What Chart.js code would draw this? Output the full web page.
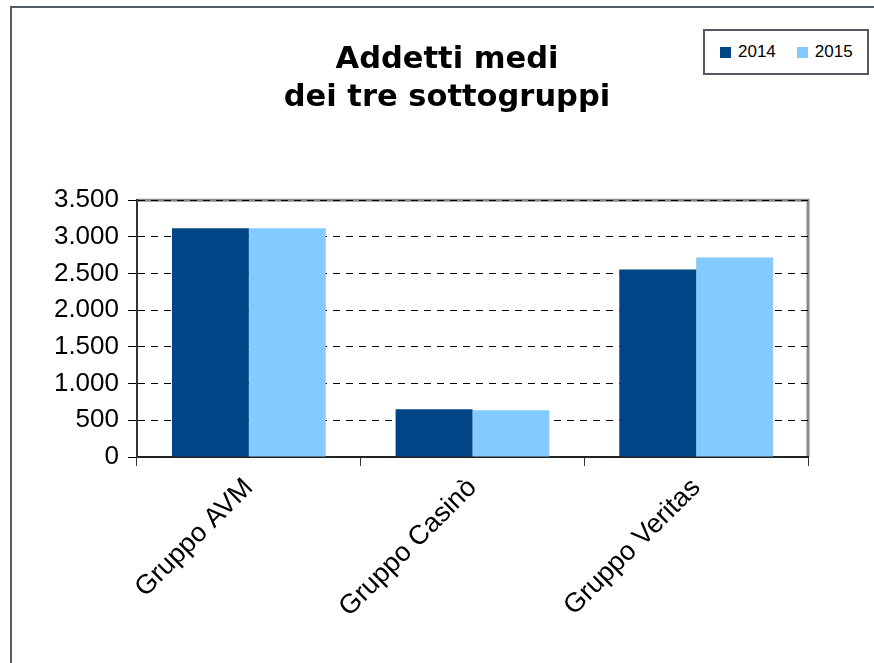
<!DOCTYPE html>
<html lang="it">
<head>
<meta charset="utf-8">
<title>Addetti medi dei tre sottogruppi</title>
<script src="https://cdn.jsdelivr.net/npm/chart.js@4"></script>
<style>
    body { margin: 0; background: #fff; }
    #wrap { position: relative; width: 874px; height: 663px; overflow: hidden; }
    #frame { position: absolute; left: 10px; top: 6px; width: 900px; height: 700px;
             border-left: 2px solid #555b62; border-top: 2px solid #555b62; }
    #chart { position: absolute; left: 0; top: 0; }
    #legend { position: absolute; left: 703px; top: 29px; width: 162px; height: 42px;
              border: 2px solid #555b62; background: #fff; display: flex; align-items: center;
              font-family: "Liberation Sans", Arial, sans-serif; font-size: 17px; color: #000; }
    #legend span.item { display: flex; align-items: center; margin-left: 15px; }
    #legend span.item + span.item { margin-left: 21px; }
    #legend span.box { display: inline-block; width: 11px; height: 11px; margin-right: 7px; }
</style>
</head>
<body>
<div id="wrap">
    <div id="frame"></div>
    <canvas id="chart" width="874" height="663"></canvas>
    <div id="legend"></div>
</div>
<script>
// Data
const categories = ['Gruppo AVM', 'Gruppo Casinò', 'Gruppo Veritas'];
const seriesNames = ['2014', '2015'];
const values2014 = [3120, 650, 2557];
const values2015 = [3120, 637, 2720];
const yTicks = [0, 500, 1000, 1500, 2000, 2500, 3000, 3500];

const colors = ['#004586', '#83caff'];

// 3500 -> "3.500"
const formatIt = (v) => String(v).replace(/\B(?=(\d{3})+(?!\d))/g, '.');

// gray border on top and right of the plot area
const plotFrame = {
    id: 'plotFrame',
    beforeDraw(chart) {
        const { ctx, chartArea: a } = chart;
        ctx.save();
        ctx.strokeStyle = '#8a8a8a';
        ctx.lineWidth = 3;
        ctx.beginPath();
        ctx.moveTo(a.left, a.top);
        ctx.lineTo(a.right, a.top);
        ctx.lineTo(a.right, a.bottom);
        ctx.stroke();
        ctx.restore();
    }
};

const chart = new Chart(document.getElementById('chart'), {
    type: 'bar',
    data: {
        labels: categories,
        datasets: [
            { label: seriesNames[0], data: values2014, backgroundColor: colors[0] },
            { label: seriesNames[1], data: values2015, backgroundColor: colors[1] }
        ]
    },
    options: {
        responsive: false,
        animation: false,
        categoryPercentage: 0.6875,
        barPercentage: 1,
        layout: { padding: { left: 20, right: 0, top: 0, bottom: 0 } },
        plugins: {
            legend: { display: false },
            tooltip: { enabled: false },
            title: {
                display: true,
                text: ['Addetti medi', 'dei tre sottogruppi'],
                color: '#000',
                font: { family: "'DejaVu Sans', Verdana, sans-serif", size: 30.5, weight: 'bold', lineHeight: 1.25 },
                padding: { top: 41, bottom: 83 }
            }
        },
        scales: {
            x: {
                grid: { offset: true, drawOnChartArea: false, drawTicks: true, tickLength: 9, color: '#333' },
                border: { display: true, color: '#222', width: 2 },
                ticks: {
                    color: '#000', maxRotation: 45, minRotation: 45, padding: 6,
                    font: { family: "'Liberation Sans', Arial, sans-serif", size: 27 }
                },
                afterFit: (s) => { s.height = 206; }
            },
            y: {
                min: 0, max: 3500,
                afterBuildTicks: (s) => { s.ticks = yTicks.map(v => ({ value: v })); },
                grid: { color: '#000', tickLength: 9, tickBorderDash: [], lineWidth: 1 },
                border: { display: true, color: '#333', width: 2, dash: [7, 6] },
                ticks: {
                    color: '#000', padding: 9,
                    font: { family: "'Liberation Sans', Arial, sans-serif", size: 26 },
                    callback: (v) => formatIt(v)
                },
                afterFit: (s) => { s.width = 117; }
            },
            // empty right-hand spacer so the title stays centred on the whole page
            yRight: {
                position: 'right',
                grid: { display: false },
                border: { display: false },
                ticks: { display: false },
                afterFit: (s) => { s.width = 66; }
            }
        }
    },
    plugins: [plotFrame]
});

// Legend in a bordered box, built from the datasets
const legendEl = document.getElementById('legend');
chart.data.datasets.forEach(ds => {
    const item = document.createElement('span');
    item.className = 'item';
    item.innerHTML = `<span class="box" style="background:${ds.backgroundColor}"></span>${ds.label}`;
    legendEl.appendChild(item);
});
</script>
</body>
</html>
